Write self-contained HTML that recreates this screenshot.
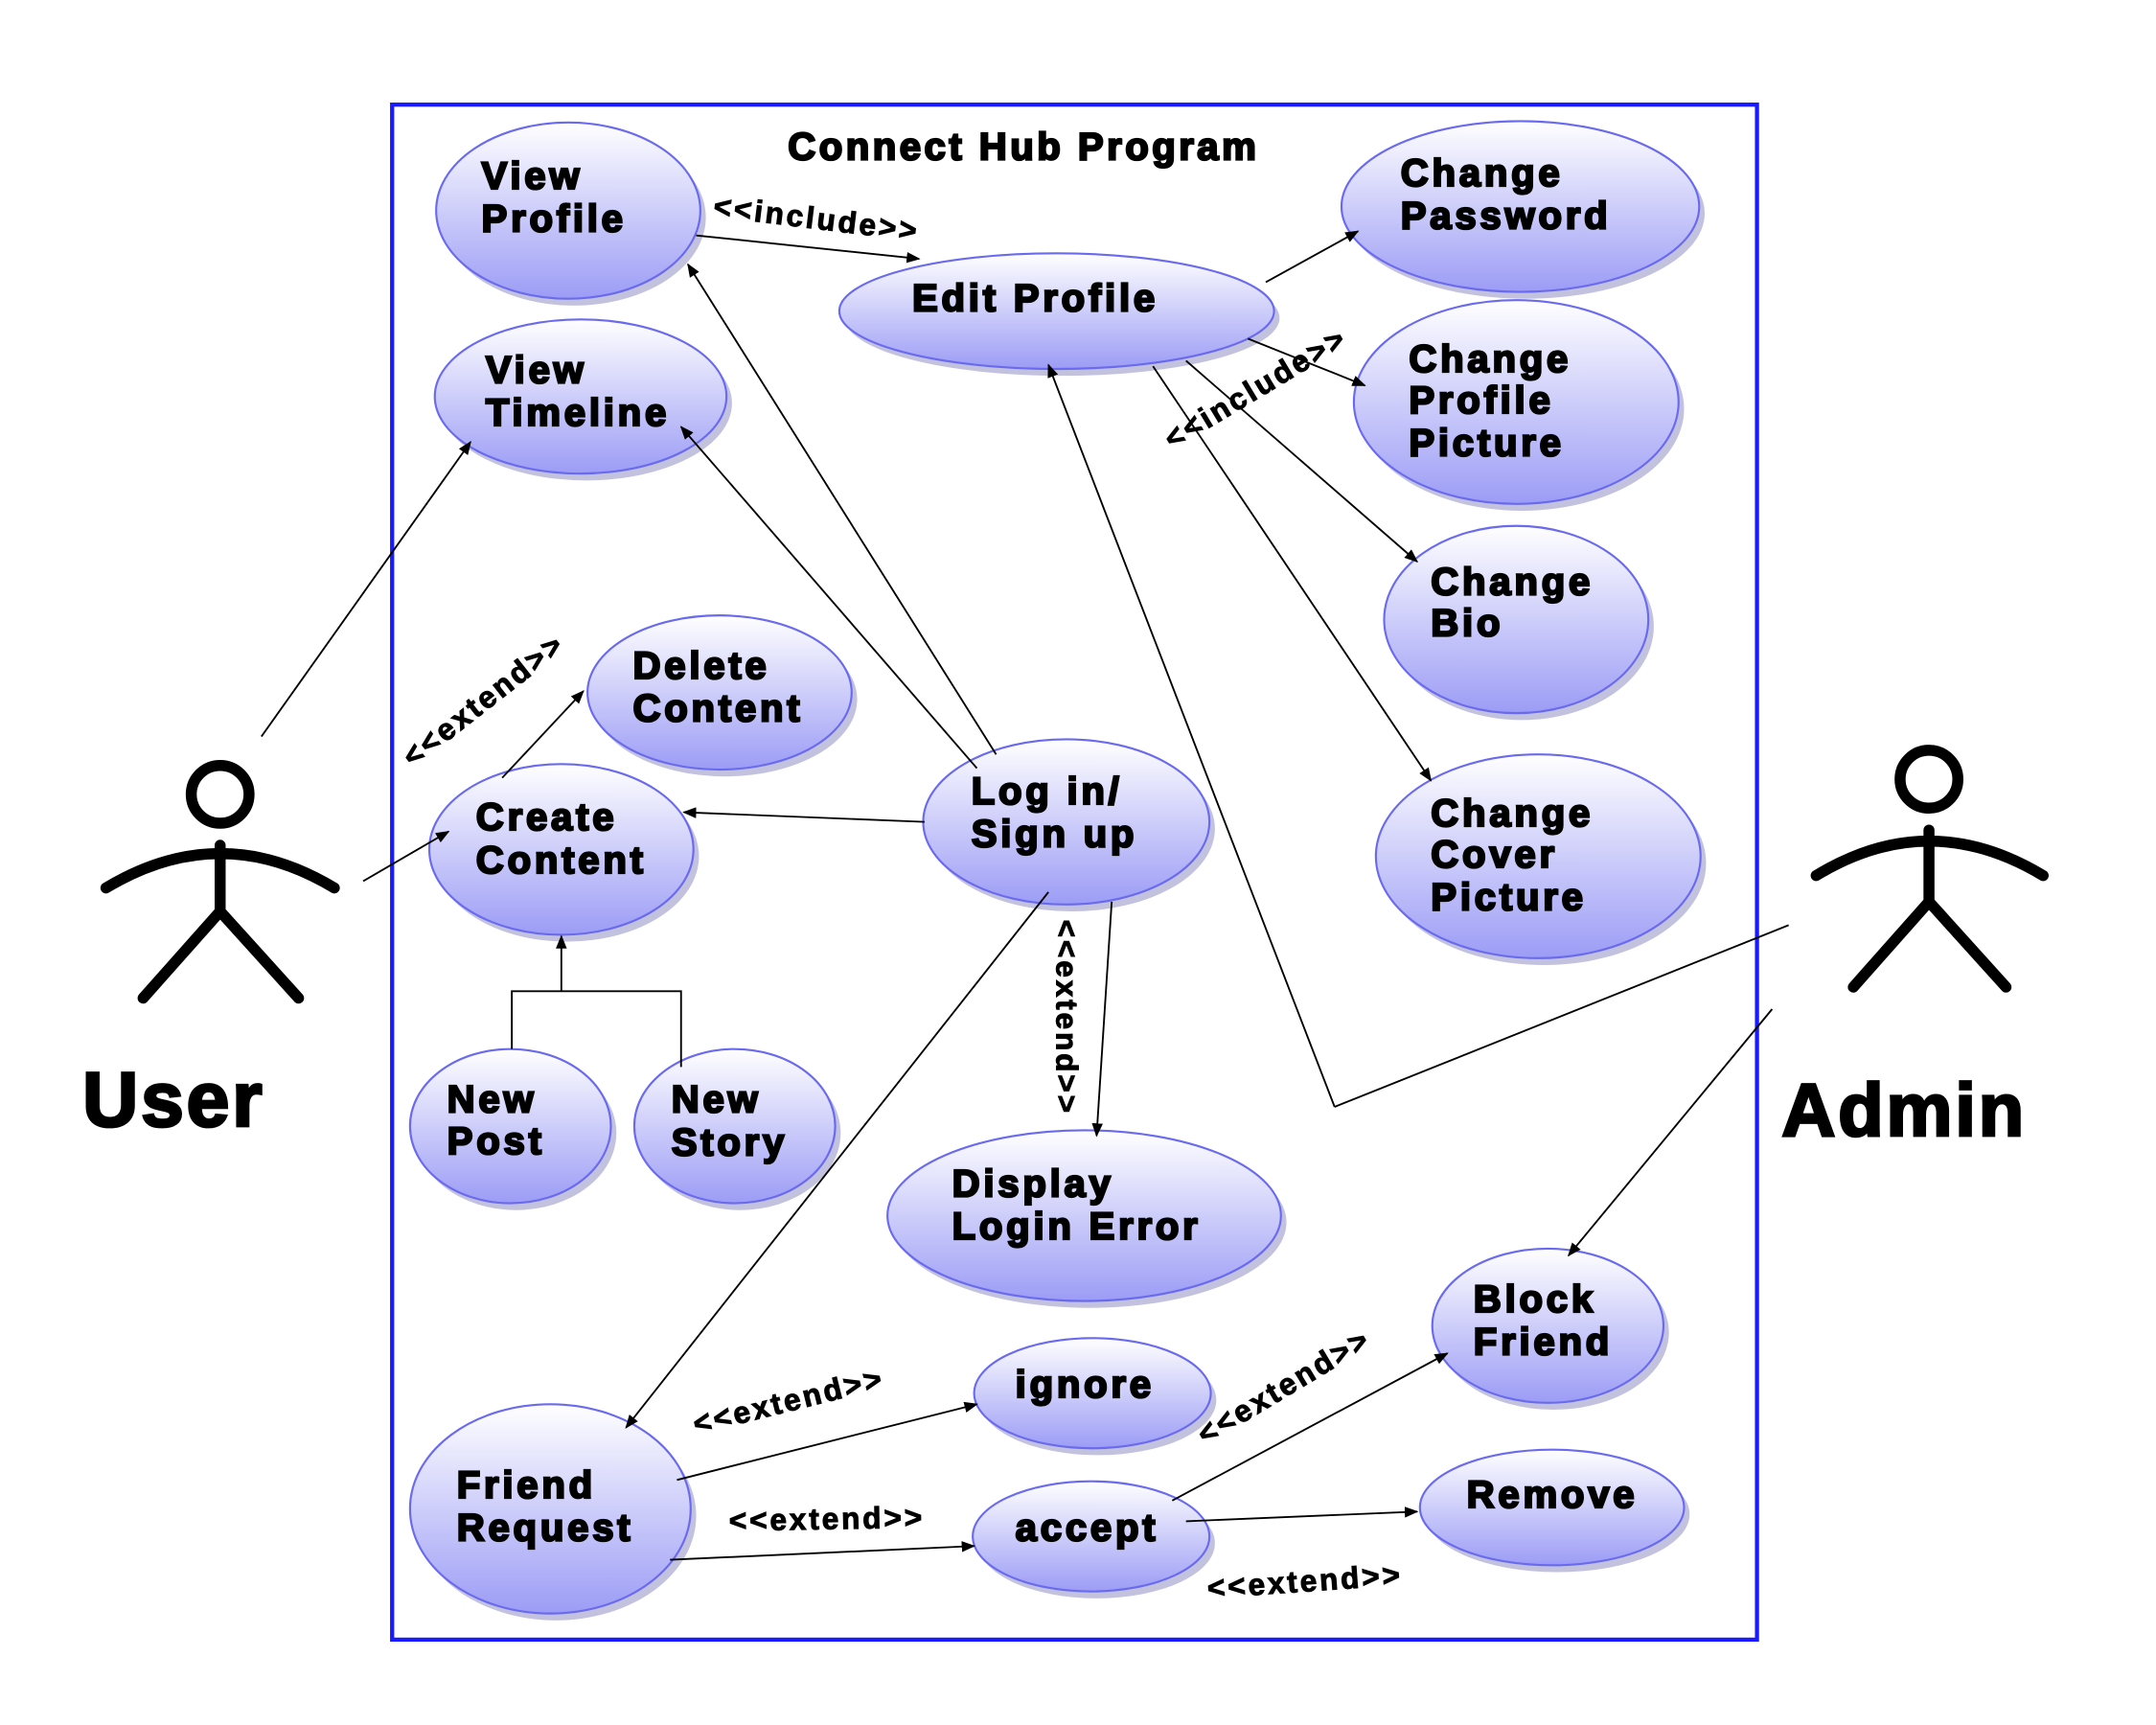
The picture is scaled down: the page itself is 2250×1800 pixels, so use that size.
<!DOCTYPE html>
<html><head><meta charset="utf-8"><style>
html,body{margin:0;padding:0;background:#fff}
svg{display:block}
text{font-family:"Liberation Sans",sans-serif;font-weight:bold;fill:#000}
.t{font-size:28px;letter-spacing:2.6px;stroke:#000;stroke-width:1.6px}
.l{font-size:22px;letter-spacing:2px;stroke:#000;stroke-width:0.7px}
.ln{stroke:#000;stroke-width:1.3;fill:none}
.e{fill:url(#g);stroke:#6a6af0;stroke-width:1.5}
.s{fill:#9a9ac8;opacity:0.6}
</style></head><body>
<svg width="2250" height="1800" viewBox="0 0 1567 1253" preserveAspectRatio="none" xmlns="http://www.w3.org/2000/svg">
<defs>
<linearGradient id="g" x1="0" y1="0" x2="0" y2="1">
<stop offset="0" stop-color="#ffffff"/><stop offset="1" stop-color="#9c9cf6"/>
</linearGradient>
<marker id="a" markerWidth="10" markerHeight="8" refX="9" refY="4" orient="auto" markerUnits="userSpaceOnUse">
<path d="M0,0 L10,4 L0,8 z" fill="#000"/>
</marker>
</defs>
<rect width="1567" height="1253" fill="#fff"/>
<rect x="285" y="76" width="992" height="1115" fill="none" stroke="#1a1aff" stroke-width="3"/>
<text x="744" y="116" class="t" text-anchor="middle" style="font-size:28px;letter-spacing:2.4px">Connect Hub Program</text>

<g>
<ellipse class="s" cx="417" cy="158" rx="96" ry="64"/>
<ellipse class="s" cx="772" cy="231" rx="158" ry="42"/>
<ellipse class="s" cx="1109" cy="155" rx="130" ry="62"/>
<ellipse class="s" cx="426" cy="293" rx="106" ry="56"/>
<ellipse class="s" cx="1106" cy="297" rx="118" ry="74"/>
<ellipse class="s" cx="1106" cy="455" rx="96" ry="68"/>
<ellipse class="s" cx="527" cy="508" rx="96" ry="56"/>
<ellipse class="s" cx="412" cy="622" rx="96" ry="62"/>
<ellipse class="s" cx="779" cy="602" rx="104" ry="60"/>
<ellipse class="s" cx="1122" cy="627" rx="118" ry="74"/>
<ellipse class="s" cx="375" cy="823" rx="73" ry="56"/>
<ellipse class="s" cx="538" cy="823" rx="73" ry="56"/>
<ellipse class="s" cx="792" cy="888" rx="143" ry="62"/>
<ellipse class="s" cx="1129" cy="968" rx="84" ry="56"/>
<ellipse class="s" cx="798" cy="1017" rx="86" ry="40"/>
<ellipse class="s" cx="404" cy="1101" rx="102" ry="76"/>
<ellipse class="s" cx="797" cy="1121" rx="86" ry="40"/>
<ellipse class="s" cx="1132" cy="1100" rx="96" ry="42"/>
<ellipse class="e" cx="413" cy="153" rx="96" ry="64"/>
<ellipse class="e" cx="768" cy="226" rx="158" ry="42"/>
<ellipse class="e" cx="1105" cy="150" rx="130" ry="62"/>
<ellipse class="e" cx="422" cy="288" rx="106" ry="56"/>
<ellipse class="e" cx="1102" cy="292" rx="118" ry="74"/>
<ellipse class="e" cx="1102" cy="450" rx="96" ry="68"/>
<ellipse class="e" cx="523" cy="503" rx="96" ry="56"/>
<ellipse class="e" cx="408" cy="617" rx="96" ry="62"/>
<ellipse class="e" cx="775" cy="597" rx="104" ry="60"/>
<ellipse class="e" cx="1118" cy="622" rx="118" ry="74"/>
<ellipse class="e" cx="371" cy="818" rx="73" ry="56"/>
<ellipse class="e" cx="534" cy="818" rx="73" ry="56"/>
<ellipse class="e" cx="788" cy="883" rx="143" ry="62"/>
<ellipse class="e" cx="1125" cy="963" rx="84" ry="56"/>
<ellipse class="e" cx="794" cy="1012" rx="86" ry="40"/>
<ellipse class="e" cx="400" cy="1096" rx="102" ry="76"/>
<ellipse class="e" cx="793" cy="1116" rx="86" ry="40"/>
<ellipse class="e" cx="1128" cy="1095" rx="96" ry="42"/>
</g>

<g class="t">
<text x="350" y="137">View</text><text x="350" y="168">Profile</text>
<text x="663" y="226">Edit Profile</text>
<text x="1018" y="135">Change</text><text x="1018" y="166">Password</text>
<text x="353" y="278">View</text><text x="353" y="309">Timeline</text>
<text x="1024" y="270">Change</text><text x="1024" y="300">Profile</text><text x="1024" y="331">Picture</text>
<text x="1040" y="432">Change</text><text x="1040" y="462">Bio</text>
<text x="460" y="493">Delete</text><text x="460" y="524">Content</text>
<text x="346" y="603">Create</text><text x="346" y="634">Content</text>
<text x="706" y="584">Log in/</text><text x="706" y="615">Sign up</text>
<text x="1040" y="600">Change</text><text x="1040" y="630">Cover</text><text x="1040" y="661">Picture</text>
<text x="325" y="808">New</text><text x="325" y="838">Post</text>
<text x="488" y="808">New</text><text x="488" y="839">Story</text>
<text x="692" y="869">Display</text><text x="692" y="900">Login Error</text>
<text x="1071" y="953">Block</text><text x="1071" y="984">Friend</text>
<text x="738" y="1015">ignore</text>
<text x="332" y="1088">Friend</text><text x="332" y="1119">Request</text>
<text x="738" y="1119">accept</text>
<text x="1066" y="1095">Remove</text>
</g>

<g class="ln">
<line x1="190" y1="535" x2="342" y2="321" marker-end="url(#a)"/>
<line x1="264" y1="640" x2="326" y2="604" marker-end="url(#a)"/>
<line x1="506" y1="171" x2="668" y2="188" marker-end="url(#a)"/>
<line x1="724" y1="548" x2="500" y2="192" marker-end="url(#a)"/>
<line x1="710" y1="558" x2="495" y2="310" marker-end="url(#a)"/>
<line x1="672" y1="597" x2="497" y2="590" marker-end="url(#a)"/>
<line x1="762" y1="648" x2="455" y2="1037" marker-end="url(#a)"/>
<line x1="808" y1="655" x2="797" y2="825" marker-end="url(#a)"/>
<line x1="365" y1="565" x2="424" y2="502" marker-end="url(#a)"/>
<polyline points="372,762 372,720 495,720 495,775"/>
<line x1="408" y1="720" x2="408" y2="680" marker-end="url(#a)"/>
<line x1="920" y1="205" x2="987" y2="168" marker-end="url(#a)"/>
<line x1="907" y1="246" x2="992" y2="280" marker-end="url(#a)"/>
<line x1="862" y1="262" x2="1030" y2="408" marker-end="url(#a)"/>
<line x1="838" y1="266" x2="1040" y2="567" marker-end="url(#a)"/>
<polyline points="1300,672 970,804"/>
<line x1="970" y1="804" x2="762" y2="265" marker-end="url(#a)"/>
<line x1="1288" y1="733" x2="1140" y2="912" marker-end="url(#a)"/>
<line x1="492" y1="1075" x2="710" y2="1020" marker-end="url(#a)"/>
<line x1="487" y1="1133" x2="708" y2="1123" marker-end="url(#a)"/>
<line x1="852" y1="1090" x2="1052" y2="983" marker-end="url(#a)"/>
<line x1="862" y1="1105" x2="1030" y2="1098" marker-end="url(#a)"/>
</g>

<g class="l">
<text transform="translate(518,157) rotate(7)">&lt;&lt;include&gt;&gt;</text>
<text transform="translate(852,327) rotate(-31)">&lt;&lt;include&gt;&gt;</text>
<text transform="translate(300,558) rotate(-38)">&lt;&lt;extend&gt;&gt;</text>
<text transform="translate(768,668) rotate(90)">&lt;&lt;extend&gt;&gt;</text>
<text transform="translate(506,1042) rotate(-14)">&lt;&lt;extend&gt;&gt;</text>
<text transform="translate(530,1112) rotate(-1)">&lt;&lt;extend&gt;&gt;</text>
<text transform="translate(876,1050) rotate(-31)">&lt;&lt;extend&gt;&gt;</text>
<text transform="translate(878,1161) rotate(-4)">&lt;&lt;extend&gt;&gt;</text>
</g>

<g stroke="#000" stroke-width="8" fill="none" stroke-linecap="round">
<circle cx="160" cy="577" r="21"/>
<path d="M77,645 Q160,595 243,645"/>
<line x1="160" y1="614" x2="160" y2="662"/>
<polyline points="104,725 160,662 217,725"/>
<circle cx="1402" cy="566" r="21"/>
<path d="M1320,636 Q1402,586 1485,636"/>
<line x1="1402" y1="603" x2="1402" y2="655"/>
<polyline points="1347,717 1402,655 1458,717"/>
</g>
<text x="60" y="818" style="font-size:56px;letter-spacing:2px;stroke:#000;stroke-width:2px">User</text>
<text x="1295" y="825" style="font-size:54px;letter-spacing:2px;stroke:#000;stroke-width:2px">Admin</text>
</svg>
</body></html>
